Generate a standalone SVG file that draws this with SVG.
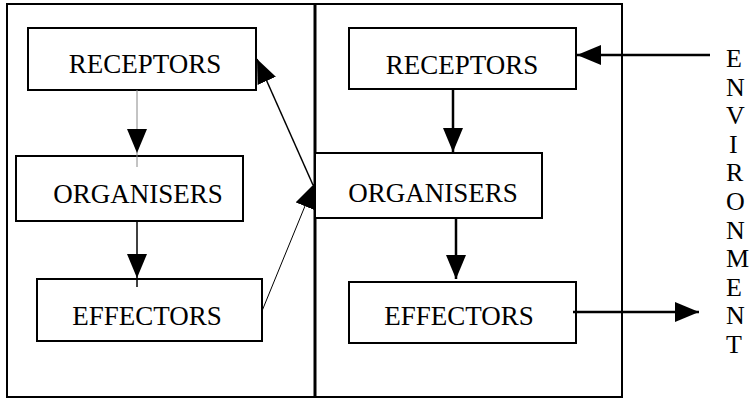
<svg xmlns="http://www.w3.org/2000/svg" width="753" height="398" viewBox="0 0 753 398">
  <style>
    .frame { fill: none; stroke: #000; stroke-width: 2; }
    .box { fill: #fff; stroke: #000; stroke-width: 2; }
    .label { font-family: "Liberation Serif", "Times New Roman", serif; font-size: 27px; fill: #000; text-anchor: middle; }
    .env { font-family: "Liberation Serif", "Times New Roman", serif; font-size: 26px; fill: #000; }
    .thin { fill: none; stroke: #888; stroke-width: 1; }
    .mid { fill: none; stroke: #000; stroke-width: 1.5; }
    .bold { fill: none; stroke: #000; stroke-width: 2.5; }
  </style>
  <defs>
    <marker id="head" viewBox="0 0 24 20" refX="24" refY="10" markerWidth="24" markerHeight="20" markerUnits="userSpaceOnUse" orient="auto">
      <path d="M0,0 L24,10 L0,20 Z" fill="#000"/>
    </marker>
  </defs>

  <!-- two system frames -->
  <g id="frames">
    <rect class="frame" x="7" y="4" width="307.5" height="393"/>
    <rect class="frame" x="315.5" y="4" width="306.5" height="393"/>
  </g>

  <!-- left system -->
  <g id="left-receptors">
    <rect class="box" x="28" y="28" width="228" height="62"/>
    <text class="label" x="145" y="73">RECEPTORS</text>
  </g>
  <g id="left-organisers">
    <rect class="box" x="16" y="156" width="227" height="65"/>
    <text class="label" x="138" y="203">ORGANISERS</text>
  </g>
  <g id="left-effectors">
    <rect class="box" x="37" y="279" width="225" height="62"/>
    <text class="label" x="147" y="325">EFFECTORS</text>
  </g>

  <!-- right system -->
  <g id="right-receptors">
    <rect class="box" x="349" y="28" width="227" height="61"/>
    <text class="label" x="462" y="74">RECEPTORS</text>
  </g>
  <g id="right-organisers">
    <rect class="box" x="315" y="153" width="227" height="65"/>
    <text class="label" x="433" y="202">ORGANISERS</text>
  </g>
  <g id="right-effectors">
    <rect class="box" x="349" y="282" width="227" height="61"/>
    <text class="label" x="459" y="325">EFFECTORS</text>
  </g>

  <!-- environment label -->
  <g id="environment">
    <text class="env" x="726" y="67">E</text>
    <text class="env" x="726" y="95.6">N</text>
    <text class="env" x="726" y="124.2">V</text>
    <text class="env" x="729" y="152.8">I</text>
    <text class="env" x="726" y="181.4">R</text>
    <text class="env" x="726" y="210">O</text>
    <text class="env" x="726" y="238.6">N</text>
    <text class="env" x="726" y="267.2">M</text>
    <text class="env" x="726" y="295.8">E</text>
    <text class="env" x="726" y="324.4">N</text>
    <text class="env" x="726" y="353">T</text>
  </g>

  <!-- connectors -->
  <g id="connectors">
    <path class="thin" d="M137,90 L137,153 L137,167" marker-mid="url(#head)"/>
    <path class="mid" d="M137,221 L137,278 L137,287" marker-mid="url(#head)"/>
    <path class="mid" d="M262,311 L314,184" marker-end="url(#head)" style="stroke-width:1"/>
    <path class="mid" d="M313,185 L257,59" marker-end="url(#head)"/>
    <path class="bold" d="M453,89 L453,152" marker-end="url(#head)"/>
    <path class="bold" d="M456,218 L456,279" marker-end="url(#head)"/>
    <path class="bold" d="M710,55 L577,55" marker-end="url(#head)"/>
    <path class="bold" d="M573,312 L699,312" marker-end="url(#head)"/>
  </g>
</svg>
